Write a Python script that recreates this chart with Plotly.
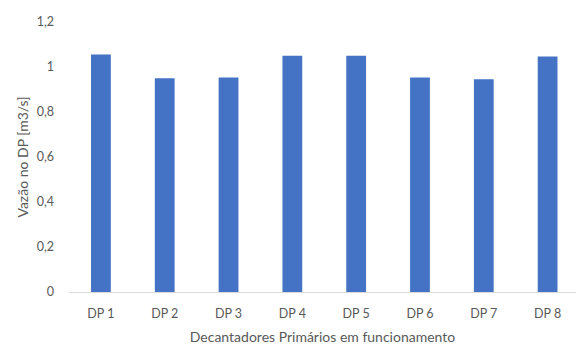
import plotly.graph_objects as go

# Primary clarifier flow rates
categories = ["DP 1", "DP 2", "DP 3", "DP 4", "DP 5", "DP 6", "DP 7", "DP 8"]
vazao = [1.056, 0.950, 0.953, 1.050, 1.050, 0.953, 0.946, 1.047]
y_ticks = [0, 0.2, 0.4, 0.6, 0.8, 1.0, 1.2]
y_tick_labels = ["0", "0,2", "0,4", "0,6", "0,8", "1", "1,2"]

font_family = "Lato, 'Open Sans', sans-serif"
text_grey = "#595959"

fig = go.Figure(
    go.Bar(
        x=list(range(len(categories))),
        y=vazao,
        marker=dict(color="#4472C4", line=dict(width=0)),
        width=0.31,
    )
)

fig.update_layout(
    width=576,
    height=346,
    margin=dict(l=69, r=0, t=22, b=54),
    plot_bgcolor="white",
    paper_bgcolor="white",
    showlegend=False,
    separators=",.",
    font=dict(family=font_family, color=text_grey, size=12),
)

fig.update_xaxes(
    tickmode="array",
    tickvals=list(range(len(categories))),
    ticktext=categories,
    range=[-0.5, 7.445],
    showline=True,
    linecolor="#D9D9D9",
    linewidth=1,
    showgrid=False,
    ticks="",
    ticklabelstandoff=10,
    tickfont=dict(size=12.5, color=text_grey),
    title=dict(
        text="Decantadores Primários em funcionamento",
        font=dict(size=14, color=text_grey),
        standoff=12,
    ),
)

fig.update_yaxes(
    range=[0, 1.2],
    tickmode="array",
    tickvals=y_ticks,
    ticktext=y_tick_labels,
    showgrid=False,
    showline=False,
    zeroline=False,
    ticks="",
    ticklabelstandoff=14,
    tickfont=dict(size=12.5, color=text_grey),
    title=dict(
        text="Vazão no DP [m3/s]",
        font=dict(size=14, color=text_grey),
        standoff=4,
    ),
)

fig.write_html("out.html")
